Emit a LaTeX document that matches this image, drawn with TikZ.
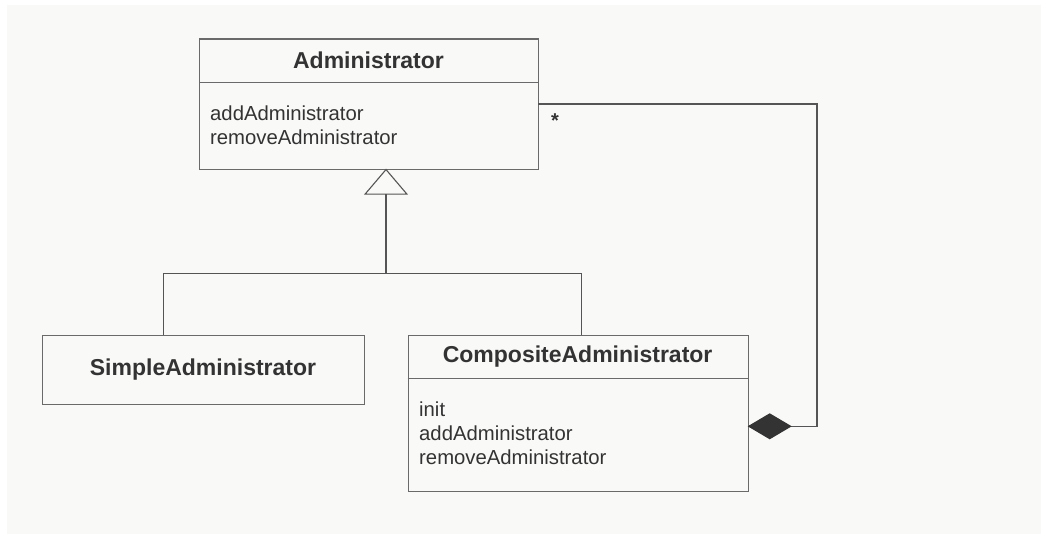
\documentclass[tikz,border=0pt]{standalone}
\usepackage{fontspec}
\setmainfont{Liberation Sans}
\usetikzlibrary{arrows.meta}
\definecolor{bgc}{HTML}{F9F9F7}
\definecolor{boxc}{HTML}{6A6A6A}
\definecolor{linec}{HTML}{555555}
\definecolor{txtc}{HTML}{333333}
\definecolor{diamc}{HTML}{333333}
\tikzset{
  classbox/.style={draw=boxc, line width=1.4pt, fill=bgc, rectangle, inner sep=0pt, anchor=north west},
  divider/.style={draw=boxc, line width=1.4pt},
  title/.style={font=\bfseries\fontsize{23}{27}\selectfont, text=txtc, inner sep=0pt},
  member/.style={font=\fontsize{20.3}{24}\selectfont, text=txtc, inner sep=0pt, anchor=west},
  conn/.style={draw=linec, line width=1.1pt},
  mult/.style={font=\bfseries\fontsize{20}{24}\selectfont, text=txtc, inner sep=0pt}
}
\begin{document}
\begin{tikzpicture}[x=1pt,y=-1pt]
\useasboundingbox (0,0) rectangle (1041,534);
\fill[bgc] (7,5) rectangle (1041,534);

% Administrator
\node[classbox, minimum width=339pt, minimum height=130.4pt] (admin) at (199,38.3) {};
\draw[divider] (199,82.3) -- (538,82.3);
\node[title] (adminT) at (368.5,60.5) {Administrator};
\node[member] (adminM1) at (210,113.3) {addAdministrator};
\node[member] (adminM2) at (210,137.3) {removeAdministrator};

% SimpleAdministrator
\node[classbox, minimum width=322pt, minimum height=69.3pt] (simple) at (42,334.7) {};
\node[title] (simpleT) at (203,369.5) {SimpleAdministrator};

% CompositeAdministrator
\node[classbox, minimum width=340.2pt, minimum height=156pt] (comp) at (407.5,334.7) {};
\draw[divider] (407.5,378.3) -- (747.7,378.3);
\node[title] (compT) at (577.6,356.5) {CompositeAdministrator};
\node[member] (compM1) at (419,409) {init};
\node[member] (compM2) at (419,433.5) {addAdministrator};
\node[member] (compM3) at (419,457.7) {removeAdministrator};

% inheritance
\coordinate (aBot) at (386,168.7);
\coordinate (jn) at (386,273.3);
\coordinate (sTop) at (163.3,334.7);
\coordinate (cTop) at (581.7,334.7);
\draw[conn] (sTop) |- (jn) -| (cTop);
\draw[conn, -{Triangle[open, length=26pt, width=44pt, line width=1.1pt]}] (jn) -- (aBot);

% composition
\coordinate (aRight) at (538,104);
\coordinate (corner1) at (817,104);
\coordinate (corner2) at (817,426.3);
\coordinate (cRight) at (747.7,426.3);
\draw[conn, -{Diamond[length=44pt, width=26pt, fill=diamc, color=diamc]}] (aRight) -- (corner1) -- (corner2) -- (cRight);
\node[mult] (star) at (555,121) {*};
\end{tikzpicture}
\end{document}
